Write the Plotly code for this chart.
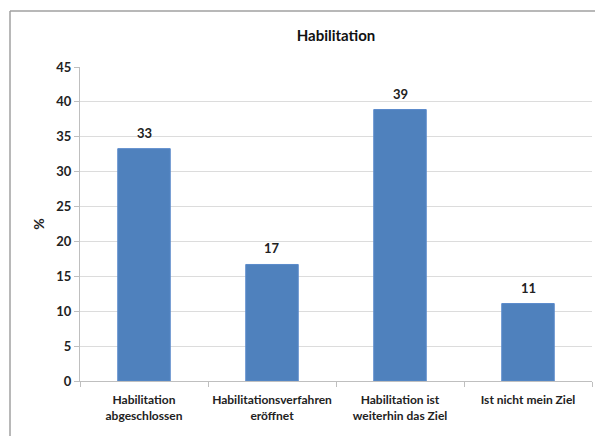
import plotly.graph_objects as go

categories = ["Habilitation<br>abgeschlossen", "Habilitationsverfahren<br>eröffnet",
              "Habilitation ist<br>weiterhin das Ziel", "Ist nicht mein Ziel"]
values = [33.3, 16.7, 38.9, 11.1]
value_labels = ["33", "17", "39", "11"]
y_ticks = [0, 5, 10, 15, 20, 25, 30, 35, 40, 45]

font = "Lato"

fig = go.Figure(go.Bar(
    x=categories, y=values,
    marker=dict(color="#4F81BD", line=dict(color="#5A8ACB", width=1)),
    width=0.41,
))

for c, v, t in zip(categories, values, value_labels):
    fig.add_annotation(x=c, y=v, text=t, showarrow=False, yanchor="bottom", yshift=6,
                       font=dict(family=font, size=13, color="#222222", weight="bold"))

top = (381 - 11) / 314
left = -70 / 512
right = (595 - 80) / 512
bottom = -55 / 314
fig.update_layout(
    width=595, height=436,
    margin=dict(l=80, r=3, t=67, b=55, autoexpand=False),
    paper_bgcolor="white", plot_bgcolor="white",
    showlegend=False,
    title=dict(text="Habilitation", x=0.5, xanchor="center", y=0.918, yanchor="middle",
               xref="paper", font=dict(family=font, size=15, color="#111111", weight="bold")),
    font=dict(family=font, color="#222222"),
    xaxis=dict(
        tickfont=dict(family=font, size=12, color="#222222", weight="bold"),
        tickangle=0, automargin=False,
        showline=True, linecolor="#BFBFBF", linewidth=1,
        ticks="outside", tickson="boundaries", ticklen=5, tickcolor="#BFBFBF",
        ticklabelstandoff=8,
        showgrid=False,
    ),
    yaxis=dict(
        range=[0, 45], tickvals=y_ticks, automargin=False,
        tickfont=dict(family=font, size=13, color="#222222", weight="bold"),
        showline=True, linecolor="#BFBFBF", linewidth=1,
        ticks="outside", ticklen=5, tickcolor="#BFBFBF",
        showgrid=True, gridcolor="#DCDCDC", gridwidth=1,
        title=dict(text="%", font=dict(family=font, size=14, color="#222222", weight="bold"), standoff=8),
        zeroline=False,
    ),
    shapes=[
        dict(type="line", xref="paper", yref="paper", x0=left, x1=left, y0=bottom, y1=top,
             line=dict(color="#A0A0A0", width=1.5), layer="below"),
        dict(type="line", xref="paper", yref="paper", x0=left, x1=right, y0=top, y1=top,
             line=dict(color="#A0A0A0", width=1.5), layer="below"),
    ],
)

fig.write_html("out.html")
